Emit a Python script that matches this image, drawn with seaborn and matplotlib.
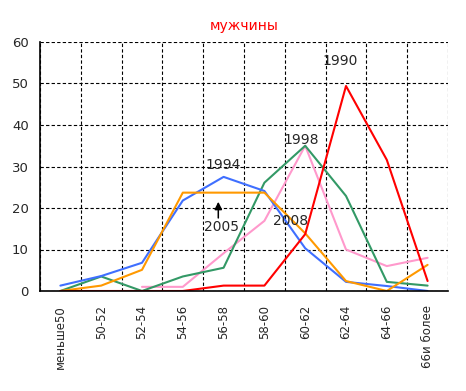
import numpy as np
import pandas as pd
import matplotlib as mpl
mpl.use('Agg')
import seaborn as sns
import matplotlib.pyplot as plt

sns.set_style("white")
plt.rcParams['font.family'] = ['DejaVu Sans']

# возрастные группы
categories = ["меньше50", "50-52", "52-54", "54-56", "56-58", "58-60",
              "60-62", "62-64", "64-66", "66и более"]

# значения по годам
y1990 = [0, 0, 0, 0, 1.3, 1.3, 13.7, 49.4, 31.6, 2.4]
y1994 = [1.3, 3.6, 6.8, 21.8, 27.5, 24.1, 10.3, 2.2, 1.2, 0]
y1998 = [0, 3.5, 0, 3.5, 5.6, 26.1, 35.0, 22.9, 2.2, 1.3]
y2005 = [0, 1.3, 5.1, 23.7, 23.7, 23.7, 13.9, 2.4, 0, 6.3]
y2008 = [np.nan, np.nan, 1.0, 1.0, 9.1, 16.9, 35.0, 10.0, 6.0, 8.0]

series = {"1990": y1990, "1994": y1994, "1998": y1998, "2005": y2005, "2008": y2008}
colors = {"1990": "#ff0000", "1994": "#3f6fff", "1998": "#339966",
          "2005": "#ff9900", "2008": "#ff99cc"}

rows = []
for year, vals in series.items():
	for i, v in enumerate(vals):
		rows.append((year, i, v))
df = pd.DataFrame(rows, columns=["year", "pos", "value"]).dropna()

fig = plt.figure(figsize=(4.66, 3.91), dpi=100)
ax = fig.add_axes([40 / 466, 1 - 291 / 391, 408 / 466, 249 / 391])

# порядок отрисовки: розовая внизу
order = ["2008", "1998", "1994", "2005", "1990"]
for year in order:
	sns.lineplot(data=df[df.year == year], x="pos", y="value", color=colors[year],
	             linewidth=1.5, ax=ax, legend=False)

ax.set_xlim(-0.5, len(categories) - 0.5)
ax.set_ylim(0, 60)
ax.set_yticks(range(0, 61, 10))
ax.set_xticks(np.arange(-0.5, len(categories), 1), minor=False)
ax.set_xticklabels([])
ax.set_xticks(range(len(categories)), minor=True)
ax.set_xticklabels(categories, minor=True, rotation=90, fontsize=8.5)
ax.tick_params(axis='x', which='minor', length=0, pad=10)
ax.tick_params(axis='x', which='major', length=4, direction='out', width=1, color='black')
ax.tick_params(axis='y', length=4, direction='out', width=1, color='black', labelsize=9.5, pad=4)
ax.set_xlabel("")
ax.set_ylabel("")

ax.grid(True, which='major', color='black', linestyle=(0, (3, 2)), linewidth=0.8)
ax.set_axisbelow(True)
for s in ['top', 'right']:
	ax.spines[s].set_visible(False)
for s in ['left', 'bottom']:
	ax.spines[s].set_color('black')
	ax.spines[s].set_linewidth(1.2)

ax.text(0.5, 1.035, "мужчины", transform=ax.transAxes, color='red', ha='center', va='bottom', fontsize=10)

ax.text(6.85, 55.5, "1990", ha='center', va='center', fontsize=10)
ax.text(5.9, 36.5, "1998", ha='center', va='center', fontsize=10)
ax.text(4.0, 30.3, "1994", ha='center', va='center', fontsize=10)
ax.text(3.95, 15.5, "2005", ha='center', va='center', fontsize=10)
ax.text(5.65, 16.8, "2008", ha='center', va='center', fontsize=10)
ax.annotate("", xy=(3.87, 21.5), xytext=(3.87, 17.6),
            arrowprops=dict(arrowstyle='-|>', color='black', lw=1.1, mutation_scale=11,
                            shrinkA=0, shrinkB=0))

fig.savefig("out.png", dpi=100)
